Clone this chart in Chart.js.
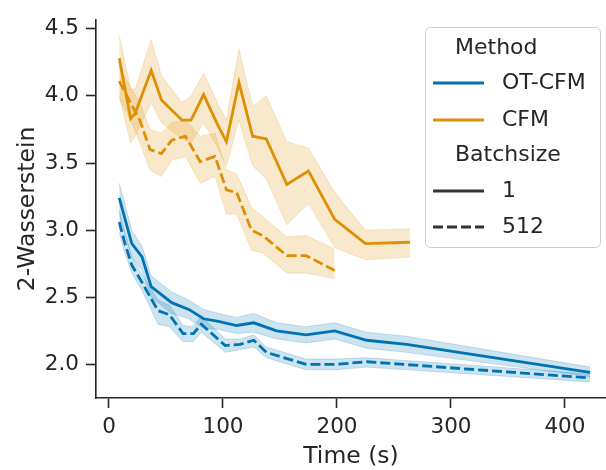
<!DOCTYPE html>
<html>
<head>
<meta charset="utf-8">
<script src="https://cdn.jsdelivr.net/npm/chart.js@4.4.1/dist/chart.umd.min.js"></script>
<style>
  html, body { margin: 0; padding: 0; background: #ffffff; }
  #wrap { width: 606px; height: 470px; position: relative; }
</style>
</head>
<body>
<div id="wrap"><canvas id="c" width="606" height="470"></canvas></div>
<script>
// ---- Data ----
const xTicks = [0, 100, 200, 300, 400];
const yTicks = [2.0, 2.5, 3.0, 3.5, 4.0, 4.5];

// OT-CFM, batch size 1
const otcfm1Time  = [9, 20, 29, 37, 55, 70, 83, 96, 112, 127, 147, 173, 198, 226, 261, 422];
const otcfm1Mean  = [3.24, 2.90, 2.80, 2.58, 2.46, 2.41, 2.34, 2.32, 2.29, 2.31, 2.25, 2.22, 2.25, 2.18, 2.15, 1.94];
const otcfm1Upper = [3.35, 3.00, 2.88, 2.66, 2.54, 2.48, 2.41, 2.38, 2.35, 2.38, 2.31, 2.28, 2.31, 2.24, 2.21, 1.98];
const otcfm1Lower = [3.12, 2.80, 2.70, 2.50, 2.38, 2.34, 2.27, 2.26, 2.23, 2.24, 2.19, 2.16, 2.19, 2.12, 2.09, 1.91];

// OT-CFM, batch size 512
const otcfm512Time  = [9, 14, 20, 29, 43, 53, 65, 74, 81, 102, 115, 127, 138, 173, 198, 226, 422];
const otcfm512Mean  = [3.06, 2.90, 2.74, 2.61, 2.40, 2.37, 2.23, 2.23, 2.30, 2.14, 2.15, 2.18, 2.09, 2.00, 2.00, 2.02, 1.90];
const otcfm512Upper = [3.15, 2.97, 2.80, 2.67, 2.48, 2.44, 2.29, 2.28, 2.36, 2.19, 2.19, 2.22, 2.13, 2.04, 2.04, 2.05, 1.93];
const otcfm512Lower = [2.98, 2.83, 2.68, 2.55, 2.30, 2.28, 2.17, 2.17, 2.24, 2.09, 2.11, 2.13, 2.05, 1.96, 1.96, 1.98, 1.87];

// CFM, batch size 1
const cfm1Time  = [9, 19, 23, 37, 46, 64, 72, 83, 95, 103, 114, 126, 138, 156, 175, 198, 225, 264];
const cfm1Mean  = [4.28, 3.83, 3.87, 4.19, 3.97, 3.82, 3.82, 4.01, 3.79, 3.66, 4.10, 3.70, 3.68, 3.34, 3.44, 3.08, 2.90, 2.91];
const cfm1Upper = [4.45, 4.05, 4.05, 4.42, 4.15, 3.95, 4.00, 4.17, 3.95, 3.82, 4.35, 3.92, 4.00, 3.66, 3.61, 3.28, 3.00, 3.01];
const cfm1Lower = [4.00, 3.65, 3.70, 3.95, 3.80, 3.68, 3.65, 3.80, 3.62, 3.48, 3.82, 3.48, 3.38, 3.04, 3.20, 2.87, 2.78, 2.80];

// CFM, batch size 512
const cfm512Time  = [9, 20, 27, 36, 46, 55, 67, 80, 93, 103, 112, 125, 135, 156, 173, 198];
const cfm512Mean  = [4.11, 3.93, 3.82, 3.60, 3.57, 3.67, 3.70, 3.51, 3.55, 3.30, 3.28, 3.00, 2.96, 2.81, 2.81, 2.70];
const cfm512Upper = [4.22, 4.05, 3.95, 3.75, 3.72, 3.80, 3.82, 3.70, 3.72, 3.45, 3.42, 3.17, 3.10, 2.95, 2.96, 2.86];
const cfm512Lower = [3.98, 3.80, 3.65, 3.45, 3.40, 3.52, 3.55, 3.35, 3.40, 3.12, 3.12, 2.85, 2.83, 2.68, 2.68, 2.64];

const methodLabels = ['OT-CFM', 'CFM'];
const batchLabels = ['1', '512'];

// ---- Styling ----
const BLUE = '#0173b2';
const ORANGE = '#de8f05';
const BLUE_FILL = 'rgba(1,115,178,0.2)';
const ORANGE_FILL = 'rgba(222,143,5,0.2)';
const INK = '#262626';
const FONT = '"DejaVu Sans", sans-serif';
const LW = 2.8;

const pts = (xs, ys) => xs.map((x, i) => ({ x: x, y: ys[i] }));

function lineDs(label, xs, ys, color, dashed) {
  return {
    label: label, data: pts(xs, ys), borderColor: color, backgroundColor: color,
    borderWidth: LW, borderDash: dashed ? [10, 4] : [], pointRadius: 0,
    tension: 0, fill: false
  };
}
function bandDs(xs, ys, fillColor, fillTarget) {
  return {
    label: '', data: pts(xs, ys), borderColor: fillColor, borderWidth: 1,
    backgroundColor: fillColor, pointRadius: 0, tension: 0,
    fill: fillTarget === null ? false : fillTarget
  };
}

const datasets = [
  lineDs('OT-CFM 1', otcfm1Time, otcfm1Mean, BLUE, false),       // 0
  lineDs('OT-CFM 512', otcfm512Time, otcfm512Mean, BLUE, true),  // 1
  lineDs('CFM 1', cfm1Time, cfm1Mean, ORANGE, false),            // 2
  lineDs('CFM 512', cfm512Time, cfm512Mean, ORANGE, true),       // 3
  bandDs(otcfm1Time, otcfm1Lower, BLUE_FILL, null),              // 4
  bandDs(otcfm1Time, otcfm1Upper, BLUE_FILL, 4),                 // 5
  bandDs(otcfm512Time, otcfm512Lower, BLUE_FILL, null),          // 6
  bandDs(otcfm512Time, otcfm512Upper, BLUE_FILL, 6),             // 7
  bandDs(cfm1Time, cfm1Lower, ORANGE_FILL, null),                // 8
  bandDs(cfm1Time, cfm1Upper, ORANGE_FILL, 8),                   // 9
  bandDs(cfm512Time, cfm512Lower, ORANGE_FILL, null),            // 10
  bandDs(cfm512Time, cfm512Upper, ORANGE_FILL, 10)               // 11
];

const legendPlugin = {
  id: 'seabornLegend',
  afterDraw(chart) {
    const ctx = chart.ctx;
    ctx.save();
    const x0 = 425.5, y0 = 27.5, w = 175, h = 220, r = 5;
    ctx.beginPath();
    ctx.moveTo(x0 + r, y0);
    ctx.arcTo(x0 + w, y0, x0 + w, y0 + h, r);
    ctx.arcTo(x0 + w, y0 + h, x0, y0 + h, r);
    ctx.arcTo(x0, y0 + h, x0, y0, r);
    ctx.arcTo(x0, y0, x0 + w, y0, r);
    ctx.closePath();
    ctx.fillStyle = 'rgba(255,255,255,0.8)';
    ctx.fill();
    ctx.strokeStyle = '#cccccc';
    ctx.lineWidth = 1;
    ctx.stroke();

    ctx.font = '22px ' + FONT;
    ctx.fillStyle = INK;
    ctx.textBaseline = 'middle';
    ctx.textAlign = 'left';

    const handle = (y, color, dashed) => {
      ctx.beginPath();
      ctx.setLineDash(dashed ? [10, 4] : []);
      ctx.strokeStyle = color;
      ctx.lineWidth = LW;
      ctx.moveTo(433, y);
      ctx.lineTo(484, y);
      ctx.stroke();
      ctx.setLineDash([]);
    };
    ctx.fillText('Method', 455, 48);
    handle(83, BLUE, false);
    ctx.fillText(methodLabels[0], 502, 83);
    handle(120, ORANGE, false);
    ctx.fillText(methodLabels[1], 502, 120);
    ctx.fillText('Batchsize', 455, 155);
    handle(191, '#333333', false);
    ctx.fillText(batchLabels[0], 502, 191);
    handle(227, '#333333', true);
    ctx.fillText(batchLabels[1], 502, 227);
    ctx.restore();
  }
};

new Chart(document.getElementById('c'), {
  type: 'line',
  data: { datasets: datasets },
  options: {
    responsive: false,
    animation: false,
    events: [],
    layout: { padding: { top: 15, right: 0, left: 0, bottom: 0 } },
    plugins: {
      legend: { display: false },
      tooltip: { enabled: false },
      filler: { propagate: false }
    },
    scales: {
      x: {
        type: 'linear',
        min: -11.4, max: 436,
        afterBuildTicks: (s) => { s.ticks = xTicks.map(v => ({ value: v })); },
        afterFit: (s) => { s.height = 72; },
        ticks: {
          color: INK, font: { family: FONT, size: 21.5 }, padding: 7,
          maxRotation: 0, callback: (v) => String(v)
        },
        grid: {
          display: true, drawOnChartArea: false, drawTicks: true,
          tickLength: 10, tickWidth: 1.6, tickColor: INK
        },
        border: { display: true, color: INK, width: 1.6 },
        title: {
          display: true, text: 'Time (s)', color: INK,
          font: { family: FONT, size: 23.5, lineHeight: 1.0 }, padding: { top: 0, bottom: 1 }
        }
      },
      y: {
        type: 'linear',
        min: 1.75, max: 4.566,
        afterBuildTicks: (s) => { s.ticks = yTicks.map(v => ({ value: v })); },
        afterFit: (s) => { s.width = 96; },
        ticks: {
          color: INK, font: { family: FONT, size: 21.5 }, padding: 7,
          callback: (v) => Number(v).toFixed(1)
        },
        grid: {
          display: true, drawOnChartArea: false, drawTicks: true,
          tickLength: 10, tickWidth: 1.6, tickColor: INK
        },
        border: { display: true, color: INK, width: 1.6 },
        title: {
          display: true, text: '2-Wasserstein', color: INK,
          font: { family: FONT, size: 23.5 }, padding: { top: 14, bottom: 0 }
        }
      }
    }
  },
  plugins: [legendPlugin]
});
</script>
</body>
</html>
